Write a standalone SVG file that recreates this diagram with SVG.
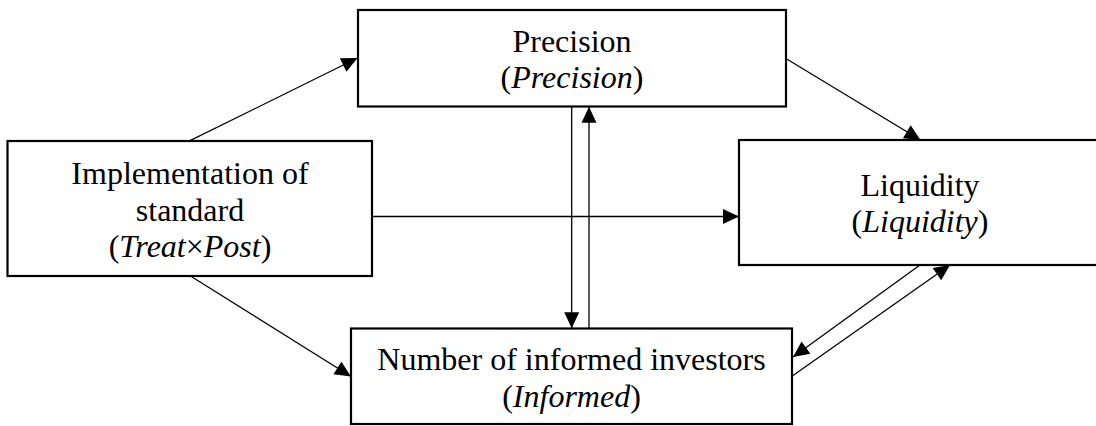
<svg xmlns="http://www.w3.org/2000/svg" width="1096" height="426" viewBox="0 0 1096 426">
  <defs>
    <marker id="arrow" markerUnits="userSpaceOnUse" markerWidth="16" markerHeight="15" refX="16" refY="7.5" orient="auto" overflow="visible">
      <path d="M0,0 L16,7.5 L0,15 Z" fill="#000"/>
    </marker>
    <style>
      .box { fill: #fff; stroke: #000; stroke-width: 2.2; }
      .lbl { font-family: "Liberation Serif", "Times New Roman", serif; font-size: 32px; fill: #000; text-anchor: middle; }
      .it { font-style: italic; }
      .conn line { stroke: #000; stroke-width: 1.3; fill: none; marker-end: url(#arrow); }
    </style>
  </defs>
  <rect width="1096" height="426" fill="#fff"/>

  <!-- connectors -->
  <g id="connectors" class="conn">
    <line x1="190" y1="140.7" x2="357.5" y2="58"/>
    <line x1="191.7" y1="276.7" x2="351" y2="376.5"/>
    <line x1="372" y1="216.5" x2="739" y2="216.5"/>
    <line x1="786.7" y1="59" x2="920.5" y2="140"/>
    <line x1="571.7" y1="106.7" x2="571.7" y2="328.3"/>
    <line x1="589" y1="328.3" x2="589" y2="106.7"/>
    <line x1="920" y1="265" x2="793" y2="357"/>
    <line x1="792.3" y1="376" x2="950" y2="265"/>
  </g>

  <!-- Precision -->
  <g id="node-precision">
    <rect class="box" x="358" y="10" width="428" height="96.5"/>
    <text class="lbl" x="572" y="52">Precision</text>
    <text class="lbl" x="572" y="87.5">(<tspan class="it">Precision</tspan>)</text>
  </g>

  <!-- Implementation of standard -->
  <g id="node-treat">
    <rect class="box" x="7.5" y="141" width="364.5" height="135"/>
    <text class="lbl" x="190" y="183.5">Implementation of</text>
    <text class="lbl" x="190" y="220.5">standard</text>
    <text class="lbl" x="190" y="256.5">(<tspan class="it">Treat</tspan>×<tspan class="it">Post</tspan>)</text>
  </g>

  <!-- Liquidity -->
  <g id="node-liquidity">
    <rect class="box" x="739" y="140" width="362" height="125"/>
    <text class="lbl" x="920" y="196">Liquidity</text>
    <text class="lbl" x="920" y="231.5">(<tspan class="it">Liquidity</tspan>)</text>
  </g>

  <!-- Number of informed investors -->
  <g id="node-informed">
    <rect class="box" x="351" y="328.5" width="441" height="95.5"/>
    <text class="lbl" x="571.5" y="370">Number of informed investors</text>
    <text class="lbl" x="571.5" y="406.5">(<tspan class="it">Informed</tspan>)</text>
  </g>
</svg>
